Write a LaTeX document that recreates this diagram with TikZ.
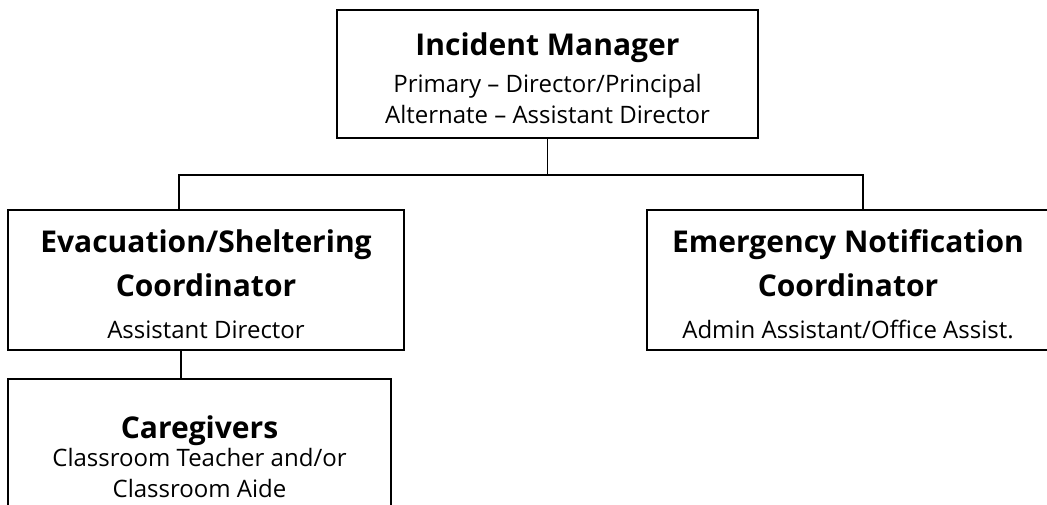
\documentclass[tikz,border=0pt]{standalone}
\usepackage{fontspec}
\setmainfont{Open Sans}
\newcommand{\rolename}[1]{{\fontsize{30}{31}\selectfont\bfseries #1}}
\newcommand{\toppad}[1]{\rule{0pt}{#1}}
\begin{document}
\begin{tikzpicture}[x=1pt,y=-1pt,
        role/.style={draw,line width=1.5pt,inner sep=0pt,align=center,font=\fontsize{24}{31}\selectfont},
        link/.style={line width=1.5pt}]
        \useasboundingbox (0,0) rectangle (1047,504);

        \node[role,minimum width=421pt,minimum height=128pt] at (547.5,74) (im)
            {\toppad{32pt}\rolename{Incident Manager}\\[6pt] Primary -- Director/Principal\\ Alternate -- Assistant Director};
        \node[role,minimum width=396pt,minimum height=140pt] at (206,280) (evac)
            {\toppad{31pt}\rolename{Evacuation/Sheltering}\\[13pt] \rolename{Coordinator}\\[11pt] Assistant Director};
        \node[role,minimum width=402pt,minimum height=140pt] at (848,280) (emerg)
            {\toppad{31pt}\rolename{Emergency Notification}\\[13pt] \rolename{Coordinator}\\[11pt] Admin Assistant/Office Assist.};
        \node[role,minimum width=383pt,minimum height=156pt] at (199.5,457) (care)
            {\rolename{Caregivers}\\[-3pt] Classroom Teacher and/or\\ Classroom Aide};

        \coordinate (busL) at (179,175);
        \coordinate (busR) at (863,175);
        \coordinate (drop) at (181,365);

        \draw[link] (im.south) -- (im.south |- busL);
        \draw[link] (evac.north -| busL) -- (busL) -- (busR) -- (busR |- emerg.north);
        \draw[link] (drop |- evac.south) -- (drop |- care.north);
\end{tikzpicture}
\end{document}
